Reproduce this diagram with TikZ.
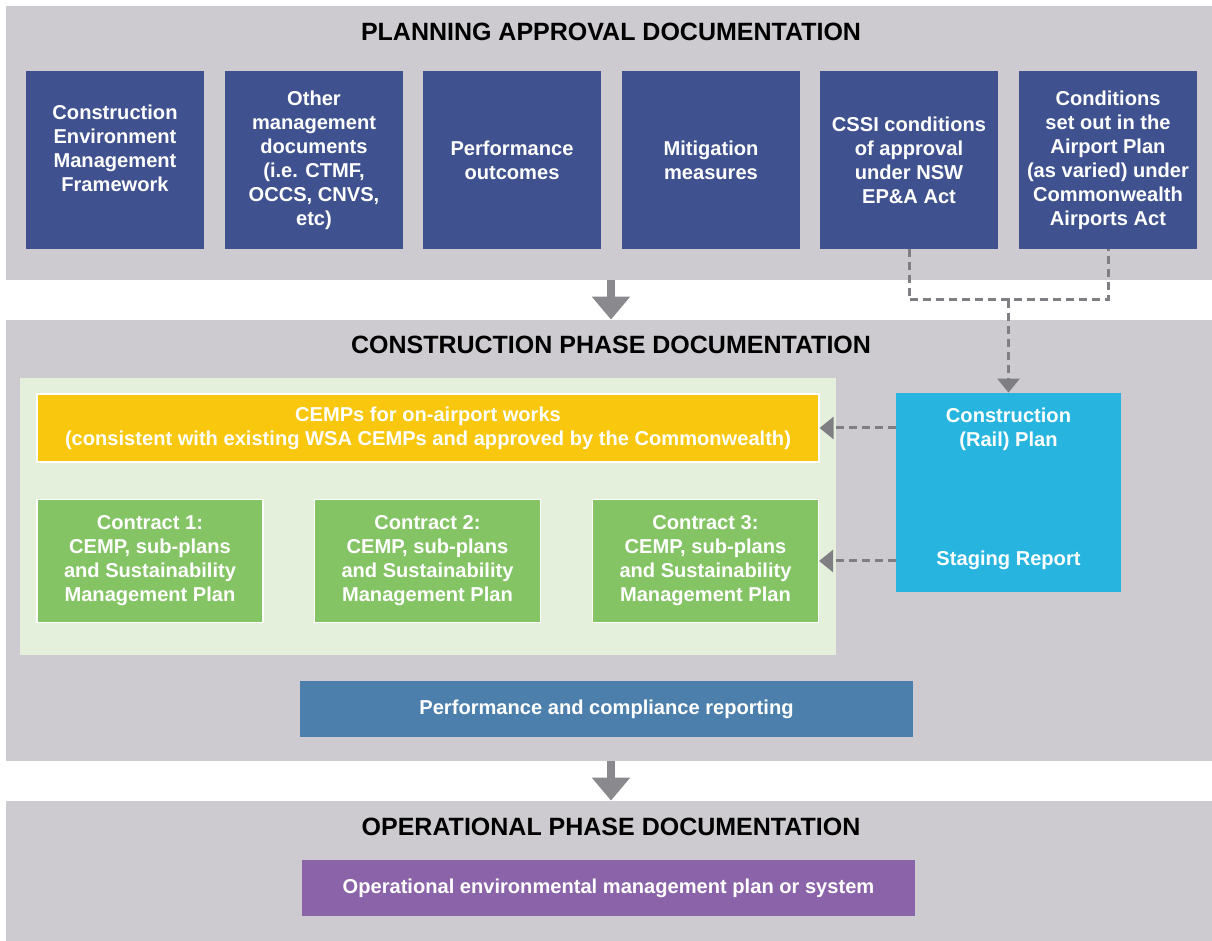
\documentclass[tikz,border=0pt]{standalone}
\usepackage{fontspec}
\setmainfont{Liberation Sans}
\usetikzlibrary{arrows.meta}
\definecolor{bandgray}{HTML}{CDCBCF}
\definecolor{navy}{HTML}{3F528F}
\definecolor{cempyellow}{HTML}{F9C80E}
\definecolor{contractgreen}{HTML}{84C465}
\definecolor{panelgreen}{HTML}{E4F0DC}
\definecolor{railblue}{HTML}{27B5DF}
\definecolor{steelblue}{HTML}{4C7FAB}
\definecolor{opspurple}{HTML}{8B63A9}
\definecolor{arrowgray}{HTML}{8A8A8E}
\definecolor{dashgray}{HTML}{7F7F83}
\begin{document}
\begin{tikzpicture}[x=0.5pt,y=-0.5pt,
    band/.style={fill=bandgray,inner sep=0pt,minimum width=603pt},
    title/.style={font=\fontsize{12.5}{14}\selectfont\bfseries},
    boxtext/.style={text=white,align=center,inner sep=0pt,font=\fontsize{10.05}{12}\selectfont\bfseries},
    navybox/.style={boxtext,fill=navy,minimum width=89pt,minimum height=89pt},
    contract/.style={boxtext,fill=contractgreen,draw=white,line width=0.6pt,minimum width=113pt,minimum height=61.5pt},
    widebox/.style={boxtext,minimum width=306.5pt,minimum height=28pt},
    bigarrow/.style={draw=arrowgray,line width=4pt,-{Triangle[width=18.5pt,length=11.5pt]}},
    dashline/.style={draw=dashgray,line width=1.5pt,dash pattern=on 4pt off 2.5pt},
    dasharrow/.style={dashline,-{Triangle[width=11pt,length=7pt]}}]
  \useasboundingbox (0,0) rectangle (1212,941);
  \node[band,minimum height=137pt] (plan) at (609,143) {};
  \node[band,minimum height=220.5pt] (cons) at (609,540.5) {};
  \node[band,minimum height=70pt] (ops) at (609,871) {};
  \node[title] (plantitle) at (611,32) {PLANNING APPROVAL DOCUMENTATION};
  \node[title] (constitle) at (611,345) {CONSTRUCTION PHASE DOCUMENTATION};
  \node[title] (opstitle) at (611,827) {OPERATIONAL PHASE DOCUMENTATION};
  \node[navybox] (cemf) at (115,160) {Construction\\Environment\\Management\\Framework\\\mbox{}};
  \node[navybox] (omd) at (314,160) {Other\\management\\documents\\(i.e. CTMF,\\OCCS, CNVS,\\etc)};
  \node[navybox] (perfout) at (512,160) {Performance\\outcomes};
  \node[navybox] (mitig) at (711,160) {Mitigation\\measures};
  \node[navybox] (cssi) at (909,160) {CSSI conditions\\of approval\\under NSW\\EP\&A Act};
  \node[navybox] (airport) at (1108,160) {Conditions\\set out in the\\Airport Plan\\(as varied) under\\Commonwealth\\Airports Act};
  \node[fill=panelgreen,minimum width=408pt,minimum height=138.5pt,inner sep=0pt] (panel) at (428,516.5) {};
  \node[boxtext,fill=cempyellow,draw=white,line width=0.6pt,minimum width=391pt,minimum height=34pt] (cemp) at (428,428)
    {CEMPs for on-airport works\\(consistent with existing WSA CEMPs and approved by the Commonwealth)};
  \node[contract] (con1) at (150,561) {Contract 1:\\CEMP, sub-plans\\and Sustainability\\Management Plan};
  \node[contract] (con2) at (427.5,561) {Contract 2:\\CEMP, sub-plans\\and Sustainability\\Management Plan};
  \node[contract] (con3) at (705.5,561) {Contract 3:\\CEMP, sub-plans\\and Sustainability\\Management Plan};
  \node[fill=railblue,minimum width=112.5pt,minimum height=99.5pt,inner sep=0pt] (crp) at (1008.5,492.5) {};
  \node[boxtext] (railtxt) at (1008.5,429) {Construction\\(Rail) Plan};
  \node[boxtext] (staging) at (1008.5,560) {Staging Report};
  \node[widebox,fill=steelblue] (perf) at (606.5,709) {Performance and compliance reporting};
  \node[widebox,fill=opspurple] (oemp) at (608.5,888) {Operational environmental management plan or system};
  \coordinate (join) at (1008.5,300);
  \draw[bigarrow] ([xshift=1pt]plan.south) -- ([xshift=1pt]cons.north);
  \draw[bigarrow] ([xshift=1pt]cons.south) -- ([xshift=1pt]ops.north);
  \draw[dashline] (cssi.south) |- (join) -| (airport.south);
  \draw[dasharrow] (join) -- (crp.north);
  \draw[dasharrow] (cemp.east -| crp.west) -- (cemp.east);
  \draw[dasharrow] (con3.east -| crp.west) -- (con3.east);
\end{tikzpicture}
\end{document}
